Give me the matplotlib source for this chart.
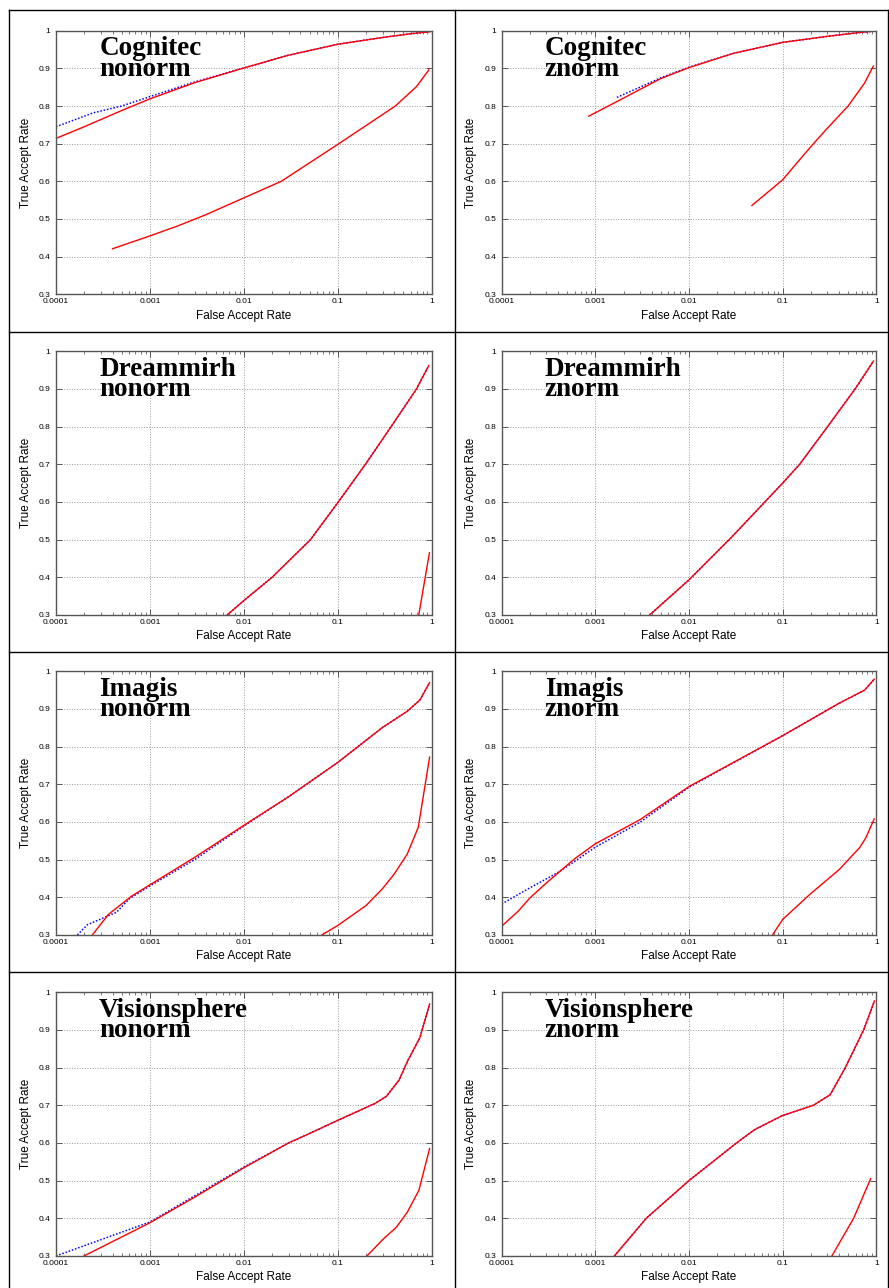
import numpy as np
import matplotlib
matplotlib.use('Agg')
import matplotlib.pyplot as plt
from matplotlib.lines import Line2D
from matplotlib.ticker import FixedLocator, FixedFormatter, LogLocator, NullLocator

# ---- data (FAR, TAR) ----
COG_NO_RED_X = [1e-4, 2e-4, 5e-4, 1e-3, 3e-3, 1e-2, 3e-2, 0.1, 0.3, 0.6, 0.95]
COG_NO_RED_Y = [0.714, 0.745, 0.788, 0.819, 0.862, 0.901, 0.935, 0.964, 0.982, 0.992, 0.997]
COG_NO_BLUE_X = [1e-4, 2.5e-4, 5e-4, 1e-3, 3e-3, 1e-2, 3e-2, 0.1, 0.3, 0.6, 0.95]
COG_NO_BLUE_Y = [0.745, 0.782, 0.800, 0.825, 0.864, 0.901, 0.935, 0.964, 0.982, 0.992, 0.997]
COG_NO_LOW_X = [4e-4, 1e-3, 2e-3, 4e-3, 1e-2, 2.5e-2, 0.1, 0.41, 0.686, 0.933]
COG_NO_LOW_Y = [0.421, 0.455, 0.482, 0.512, 0.556, 0.6, 0.698, 0.8, 0.851, 0.896]

COG_Z_RED_X = [8.5e-4, 2e-3, 5e-3, 1e-2, 3e-2, 0.1, 0.3, 0.6, 0.95]
COG_Z_RED_Y = [0.773, 0.821, 0.873, 0.902, 0.94, 0.969, 0.985, 0.994, 0.999]
COG_Z_BLUE_X = [1.7e-3, 3e-3, 5e-3, 1e-2, 3e-2, 0.1, 0.3, 0.6, 0.95]
COG_Z_BLUE_Y = [0.823, 0.850, 0.875, 0.903, 0.94, 0.969, 0.985, 0.994, 0.999]
COG_Z_LOW_X = [0.047, 0.1, 0.141, 0.2, 0.3, 0.5, 0.745, 0.93]
COG_Z_LOW_Y = [0.536, 0.604, 0.648, 0.692, 0.741, 0.8, 0.86, 0.906]

DRM_NO_RED_X = [6.65e-3, 1e-2, 0.02, 0.0513, 0.1, 0.197, 0.37, 0.689, 0.93]
DRM_NO_RED_Y = [0.3, 0.338, 0.4, 0.5, 0.598, 0.7, 0.8, 0.9, 0.962]
DRM_NO_LOW_X = [0.728, 0.946]
DRM_NO_LOW_Y = [0.3, 0.465]

DRM_Z_RED_X = [3.8e-3, 1e-2, 0.0284, 0.0646, 0.1, 0.152, 0.302, 0.594, 0.933]
DRM_Z_RED_Y = [0.3, 0.393, 0.506, 0.6, 0.65, 0.7, 0.8, 0.9, 0.974]

IMG_NO_RED_X = [2.44e-4, 3.6e-4, 6.3e-4, 1e-3, 3e-3, 1e-2, 3e-2, 0.1, 0.3, 0.55, 0.75, 0.95]
IMG_NO_RED_Y = [0.3, 0.354, 0.402, 0.433, 0.506, 0.591, 0.667, 0.758, 0.851, 0.894, 0.924, 0.97]
IMG_NO_BLUE_X = [1.69e-4, 2.16e-4, 4.4e-4, 6.1e-4, 1e-3, 3e-3, 1e-2, 3e-2, 0.1, 0.3, 0.55, 0.75, 0.95]
IMG_NO_BLUE_Y = [0.3, 0.327, 0.36, 0.397, 0.430, 0.500, 0.589, 0.667, 0.758, 0.851, 0.894, 0.924, 0.97]
IMG_NO_LOW_X = [0.068, 0.1, 0.2, 0.3, 0.4, 0.55, 0.72, 0.95]
IMG_NO_LOW_Y = [0.3, 0.325, 0.378, 0.423, 0.462, 0.515, 0.586, 0.772]

IMG_Z_RED_X = [1e-4, 1.5e-4, 2e-4, 3e-4, 6e-4, 1e-3, 3e-3, 1e-2, 0.1, 0.4, 0.75, 0.95]
IMG_Z_RED_Y = [0.323, 0.363, 0.398, 0.438, 0.502, 0.542, 0.606, 0.694, 0.829, 0.915, 0.95, 0.979]
IMG_Z_BLUE_X = [1e-4, 2e-4, 4e-4, 6e-4, 1e-3, 3e-3, 1e-2, 0.1, 0.4, 0.75, 0.95]
IMG_Z_BLUE_Y = [0.382, 0.425, 0.466, 0.495, 0.533, 0.599, 0.692, 0.829, 0.915, 0.95, 0.979]
IMG_Z_LOW_X = [0.078, 0.1, 0.2, 0.4, 0.66, 0.77, 0.95]
IMG_Z_LOW_Y = [0.3, 0.341, 0.41, 0.473, 0.531, 0.557, 0.608]

VIS_NO_RED_X = [1.99e-4, 1e-3, 3e-3, 1e-2, 3e-2, 5e-2, 0.1, 0.25, 0.33, 0.45, 0.55, 0.75, 0.95]
VIS_NO_RED_Y = [0.3, 0.388, 0.456, 0.534, 0.6, 0.625, 0.66, 0.705, 0.724, 0.767, 0.816, 0.88, 0.969]
VIS_NO_BLUE_X = [1e-4, 1e-3, 1e-2, 3e-2, 5e-2, 0.1, 0.25, 0.33, 0.45, 0.55, 0.75, 0.95]
VIS_NO_BLUE_Y = [0.3, 0.39, 0.536, 0.6, 0.625, 0.66, 0.705, 0.724, 0.767, 0.816, 0.88, 0.969]
VIS_NO_LOW_X = [0.205, 0.3, 0.42, 0.55, 0.73, 0.95]
VIS_NO_LOW_Y = [0.3, 0.343, 0.376, 0.416, 0.474, 0.585]

VIS_Z_RED_X = [1.6e-3, 3.5e-3, 1e-2, 0.0322, 0.05, 0.1, 0.213, 0.322, 0.467, 0.733, 0.955]
VIS_Z_RED_Y = [0.3, 0.4, 0.5, 0.6, 0.635, 0.673, 0.7, 0.728, 0.8, 0.9, 0.977]
VIS_Z_LOW_X = [0.336, 0.573, 0.87]
VIS_Z_LOW_Y = [0.3, 0.4, 0.505]

VENDORS = ['Cognitec', 'Dreammirh', 'Imagis', 'Visionsphere']
NORMS = ['nonorm', 'znorm']

# (red upper, blue upper, red lower) per panel, row-major
PANELS = [
    ((COG_NO_RED_X, COG_NO_RED_Y), (COG_NO_BLUE_X, COG_NO_BLUE_Y), (COG_NO_LOW_X, COG_NO_LOW_Y)),
    ((COG_Z_RED_X, COG_Z_RED_Y), (COG_Z_BLUE_X, COG_Z_BLUE_Y), (COG_Z_LOW_X, COG_Z_LOW_Y)),
    ((DRM_NO_RED_X, DRM_NO_RED_Y), (DRM_NO_RED_X, DRM_NO_RED_Y), (DRM_NO_LOW_X, DRM_NO_LOW_Y)),
    ((DRM_Z_RED_X, DRM_Z_RED_Y), (DRM_Z_RED_X, DRM_Z_RED_Y), None),
    ((IMG_NO_RED_X, IMG_NO_RED_Y), (IMG_NO_BLUE_X, IMG_NO_BLUE_Y), (IMG_NO_LOW_X, IMG_NO_LOW_Y)),
    ((IMG_Z_RED_X, IMG_Z_RED_Y), (IMG_Z_BLUE_X, IMG_Z_BLUE_Y), (IMG_Z_LOW_X, IMG_Z_LOW_Y)),
    ((VIS_NO_RED_X, VIS_NO_RED_Y), (VIS_NO_BLUE_X, VIS_NO_BLUE_Y), (VIS_NO_LOW_X, VIS_NO_LOW_Y)),
    ((VIS_Z_RED_X, VIS_Z_RED_Y), (VIS_Z_RED_X, VIS_Z_RED_Y), (VIS_Z_LOW_X, VIS_Z_LOW_Y)),
]

X_TICKS = [1e-4, 1e-3, 1e-2, 1e-1, 1]
X_LABELS = ['0.0001', '0.001', '0.01', '0.1', '1']
Y_TICKS = [0.3, 0.4, 0.5, 0.6, 0.7, 0.8, 0.9, 1.0]
Y_LABELS = ['0.3', '0.4', '0.5', '0.6', '0.7', '0.8', '0.9', '1']

W, H = 889, 1288
plt.rcParams['font.family'] = ['Liberation Sans', 'DejaVu Sans']

fig = plt.figure(figsize=(W / 100, H / 100), dpi=100)

AX_LEFT = [56, 501.7]
AX_WIDTH = [375.7, 374.6]
AX_TOP = [30.7, 351.3, 671.3, 992.3]
AX_HEIGHT = 263.6

for idx, (red, blue, low) in enumerate(PANELS):
    row, col = divmod(idx, 2)
    l = AX_LEFT[col] / W
    b = 1 - (AX_TOP[row] + AX_HEIGHT) / H
    ax = fig.add_axes([l, b, AX_WIDTH[col] / W, AX_HEIGHT / H])
    ax.set_xscale('log')
    ax.set_xlim(1e-4, 1)
    ax.set_ylim(0.3, 1)

    ax.xaxis.set_major_locator(FixedLocator(X_TICKS))
    ax.xaxis.set_major_formatter(FixedFormatter(X_LABELS))
    ax.xaxis.set_minor_locator(LogLocator(base=10, subs=np.arange(2, 10)))
    ax.yaxis.set_major_locator(FixedLocator(Y_TICKS))
    ax.yaxis.set_major_formatter(FixedFormatter(Y_LABELS))
    ax.yaxis.set_minor_locator(NullLocator())

    ax.tick_params(which='both', direction='in', top=True, right=True,
                   color='#444444', labelsize=6)
    ax.tick_params(which='major', length=4, width=0.6)
    ax.tick_params(which='minor', length=2, width=0.5)
    ax.tick_params(axis='x', pad=3)
    ax.tick_params(axis='y', pad=4)
    for s in ax.spines.values():
        s.set_color('#555555')
        s.set_linewidth(1.0)

    ax.grid(True, which='major', color='#999999', linestyle=':', linewidth=0.7)
    ax.set_axisbelow(True)

    ax.plot(blue[0], blue[1], color='#0000ff', linestyle=(0, (1, 1.2)), lw=1.1)
    ax.plot(red[0], red[1], color='#ff0000', lw=1.0)
    if low is not None:
        ax.plot(low[0], low[1], color='#ff0000', lw=1.0)

    ax.set_xlabel('False Accept Rate', fontsize=8.5, labelpad=3)
    ax.set_ylabel('True Accept Rate', fontsize=8.5, labelpad=5)

    # two-line panel title, tight line spacing as in the original
    # (baseline anchor refers to the last line here)
    ax.text(0.115, 0.829, VENDORS[row] + '\n' + NORMS[col], transform=ax.transAxes,
            family=['Liberation Serif', 'DejaVu Serif'], fontweight='bold',
            fontsize=19.5, ha='left', va='baseline', linespacing=0.77,
            multialignment='left')

# table-like cell borders
def hline(y, x0=9, x1=888):
    fig.add_artist(Line2D([x0 / W, x1 / W], [1 - y / H, 1 - y / H],
                          color='black', lw=1.0, transform=fig.transFigure))


def vline(x, y0=10, y1=1288):
    fig.add_artist(Line2D([x / W, x / W], [1 - y0 / H, 1 - y1 / H],
                          color='black', lw=1.0, transform=fig.transFigure))


for y in [10, 331.5, 652, 972]:
    hline(y)
for x in [9, 455, 888]:
    vline(x)

fig.savefig('out.png', dpi=100)
